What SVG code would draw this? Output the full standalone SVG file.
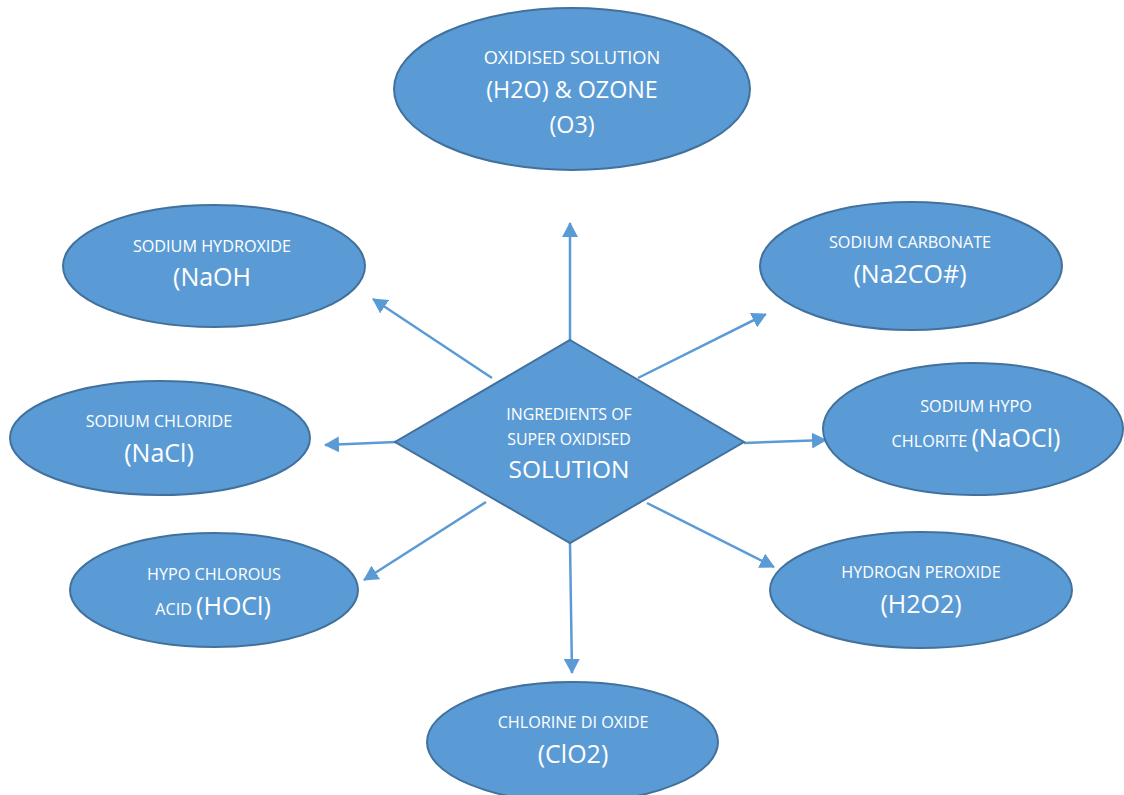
<svg xmlns="http://www.w3.org/2000/svg" width="1124" height="795" viewBox="0 0 1124 795">
<defs>
<marker id="arr" markerUnits="userSpaceOnUse" markerWidth="15" markerHeight="16" refX="14" refY="8" orient="auto">
<path d="M0,0 L15,8 L0,16 z" fill="#5B9BD5"/>
</marker>
<style>
.shape{fill:#5B9BD5;stroke:#41719C;stroke-width:2}
.t{font-family:"Open Sans","Liberation Sans",sans-serif;fill:#FFFFFF;text-anchor:middle}
.s{font-size:16.2px}
.l{font-size:25px}
.c{stroke:#5B9BD5;stroke-width:2.5;fill:none;marker-end:url(#arr)}
</style>
</defs>
<rect width="1124" height="795" fill="#FFFFFF"/>
<g id="connectors">
<line class="c" x1="570" y1="340" x2="570" y2="223"/>
<line class="c" x1="492" y1="378" x2="373" y2="299"/>
<line class="c" x1="638" y1="378" x2="766" y2="314"/>
<line class="c" x1="396" y1="442" x2="325" y2="445"/>
<line class="c" x1="744" y1="443" x2="826" y2="440"/>
<line class="c" x1="486" y1="502" x2="364" y2="580"/>
<line class="c" x1="647" y1="503" x2="774" y2="567"/>
<line class="c" x1="570" y1="543" x2="572" y2="673"/>
</g>
<g id="center">
<polygon class="shape" points="570,340 744,442 570,543 395,442"/>
<text class="t" x="569" y="420" style="font-size:15.9px">INGREDIENTS OF</text>
<text class="t" x="569" y="445" style="font-size:15.9px">SUPER OXIDISED</text>
<text class="t" x="569" y="478" style="font-size:24.5px">SOLUTION</text>
</g>
<g id="ozone">
<ellipse class="shape" cx="572" cy="89" rx="178" ry="81"/>
<text class="t" x="572" y="64" style="font-size:18.3px">OXIDISED SOLUTION</text>
<text class="t" x="572" y="98" style="font-size:23.3px">(H2O) &amp; OZONE</text>
<text class="t" x="572" y="133" style="font-size:23.3px">(O3)</text>
</g>
<g id="naoh">
<ellipse class="shape" cx="214" cy="266" rx="151" ry="61"/>
<text class="t s" x="212" y="252">SODIUM HYDROXIDE</text>
<text class="t l" x="212" y="286">(NaOH</text>
</g>
<g id="nacl">
<ellipse class="shape" cx="160" cy="438" rx="150" ry="57"/>
<text class="t s" x="159" y="427">SODIUM CHLORIDE</text>
<text class="t l" x="159" y="462">(NaCl)</text>
</g>
<g id="hocl">
<ellipse class="shape" cx="214" cy="590" rx="144" ry="57"/>
<text class="t s" x="214" y="580">HYPO CHLOROUS</text>
<text class="t" x="213" y="615"><tspan class="s">ACID </tspan><tspan class="l">(HOCl)</tspan></text>
</g>
<g id="clo2">
<ellipse class="shape" cx="572.5" cy="742" rx="145.5" ry="60"/>
<text class="t s" x="573" y="728">CHLORINE DI OXIDE</text>
<text class="t l" x="573" y="763">(ClO2)</text>
</g>
<g id="h2o2">
<ellipse class="shape" cx="921" cy="590" rx="151" ry="58"/>
<text class="t s" x="921" y="578">HYDROGN PEROXIDE</text>
<text class="t l" x="921" y="613">(H2O2)</text>
</g>
<g id="naocl">
<ellipse class="shape" cx="973" cy="429" rx="150" ry="66"/>
<text class="t s" x="976" y="412">SODIUM HYPO</text>
<text class="t" x="976" y="447"><tspan class="s">CHLORITE </tspan><tspan class="l">(NaOCl)</tspan></text>
</g>
<g id="na2co3">
<ellipse class="shape" cx="911" cy="266" rx="151" ry="64"/>
<text class="t s" x="910" y="248">SODIUM CARBONATE</text>
<text class="t l" x="910" y="283">(Na2CO#)</text>
</g>
</svg>
